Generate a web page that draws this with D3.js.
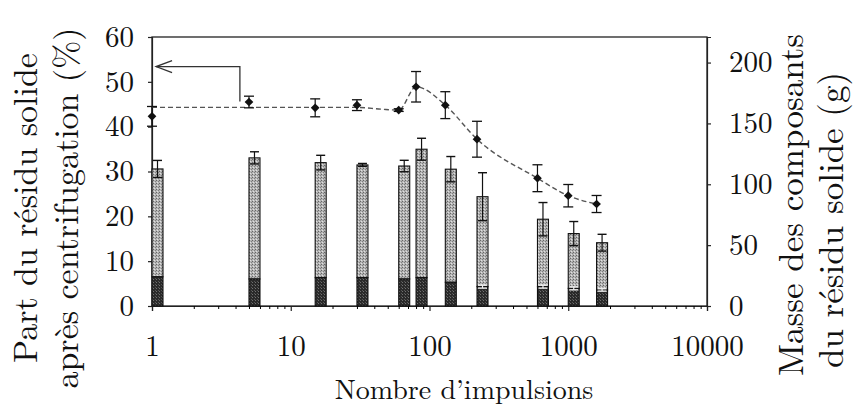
<!DOCTYPE html>
<html><head><meta charset="utf-8">
<script src="https://cdn.jsdelivr.net/npm/d3@7"></script>
<style>body{margin:0;background:#fff;}</style></head>
<body><svg id="c" width="855" height="409"></svg>
<script>
// ---- data ----
const pulses        = [1, 5, 15, 30, 60, 80, 130, 220, 600, 1000, 1600];
const partSolide    = [42.3, 45.5, 44.2, 44.8, 43.7, 48.9, 44.8, 37.2, 28.5, 24.6, 22.75];
const partSolideErr = [2.2, 1.3, 2.0, 1.2, 0.3, 3.4, 3.0, 4.0, 3.0, 2.5, 1.9];
const massTotal     = [112.6, 121.7, 117.8, 115.9, 115.0, 128.8, 112.4, 89.8, 71.3, 59.5, 52.0];
const massTotalErr  = [7.0, 5.0, 6.0, 1.2, 4.7, 9.0, 10.4, 19.7, 13.7, 9.9, 6.9];
const massDark      = [24.0, 22.2, 23.3, 23.3, 22.2, 23.3, 19.5, 15.9, 15.9, 14.5, 13.2];
const massDarkErr   = [0, 0, 0, 0, 0, 0, 0, 1.2, 1.2, 1.2, 1.0];
const fitPulses     = [1, 30, 45, 60, 80, 130, 220, 600, 1000, 1600];
const fitPart       = [44.3, 44.3, 43.9, 43.7, 48.9, 44.8, 37.2, 28.5, 24.6, 22.75];
const xTicks        = [1, 10, 100, 1000, 10000];
const yLeftTicks    = [0, 10, 20, 30, 40, 50, 60];
const yRightTicks   = [0, 50, 100, 150, 200];
const arrowPts      = [[4.3, 45.6], [4.3, 53.4], [1.07, 53.4]]; // [pulses, %]

// ---- layout ----
const FONT = '"Latin Modern Roman"';
const L = 152, R = 707, T = 37, B = 306;
const svg = d3.select("#c");
const x = d3.scaleLog().domain([1, 10000]).range([L, R]);
const yL = d3.scaleLinear().domain([0, 60]).range([B, T]);
const yR = d3.scaleLinear().domain([0, 221]).range([B, T]);

// patterns
const defs = svg.append("defs");
const pl = defs.append("pattern").attr("id","light").attr("width",3).attr("height",3).attr("patternUnits","userSpaceOnUse");
pl.append("rect").attr("width",3).attr("height",3).attr("fill","#b4b4b4");
pl.append("rect").attr("x",0).attr("y",0).attr("width",1).attr("height",1).attr("fill","#666");
pl.append("rect").attr("x",2).attr("y",1).attr("width",1).attr("height",1).attr("fill","#808080");
pl.append("rect").attr("x",1).attr("y",2).attr("width",1).attr("height",1).attr("fill","#e0e0e0");
const pd = defs.append("pattern").attr("id","dark").attr("width",3).attr("height",3).attr("patternUnits","userSpaceOnUse");
pd.append("rect").attr("width",3).attr("height",3).attr("fill","#2a2a2a");
pd.append("rect").attr("x",0).attr("y",0).attr("width",1).attr("height",1).attr("fill","#707070");
pd.append("rect").attr("x",2).attr("y",2).attr("width",1).attr("height",1).attr("fill","#555");

// frame
svg.append("rect").attr("x",L).attr("y",T).attr("width",R-L).attr("height",B-T)
  .attr("fill","none").attr("stroke","#222").attr("stroke-width",1.3);

// axes
const gx = svg.append("g").attr("transform",`translate(0,${B})`)
  .call(d3.axisBottom(x).tickValues(xTicks).tickFormat(d3.format("d")).tickSize(5).tickPadding(24));
const minor = [];
for (let e = 0; e < 4; e++) for (let k = 2; k <= 9; k++) minor.push(k * Math.pow(10, e));
svg.append("g").attr("transform",`translate(0,${B})`)
  .call(d3.axisBottom(x).tickValues(minor).tickFormat("").tickSize(3))
  .call(g => g.select(".domain").remove());
const gl = svg.append("g").attr("transform",`translate(${L},0)`)
  .call(d3.axisLeft(yL).tickValues(yLeftTicks).tickSize(4).tickPadding(14));
const gr = svg.append("g").attr("transform",`translate(${R},0)`)
  .call(d3.axisRight(yR).tickValues(yRightTicks).tickSize(4).tickPadding(18));
[gx, gl, gr].forEach(g => {
  g.attr("font-family", null).attr("font-size", null);
  g.selectAll("text").style("font-size","29px").style("font-family",FONT).attr("fill","#111");
  g.selectAll("line,path").attr("stroke","#222").attr("stroke-width",1.2);
});
svg.selectAll(".domain").attr("stroke","#222");

// bars
const bw = 11;
const bars = svg.append("g");
pulses.forEach((p, i) => {
  const x0 = x(p);
  bars.append("rect").attr("x",x0).attr("y",yR(massTotal[i])).attr("width",bw)
    .attr("height",yR(massDark[i]) - yR(massTotal[i])).attr("fill","url(#light)")
    .attr("stroke","#111").attr("stroke-width",1.1);
  bars.append("rect").attr("x",x0).attr("y",yR(massDark[i])).attr("width",bw)
    .attr("height",B - yR(massDark[i])).attr("fill","url(#dark)")
    .attr("stroke","#111").attr("stroke-width",1.1);
  const cx = x0 + bw / 2;
  const eb = (v, e, col) => {
    if (e <= 0) return;
    const y1 = yR(v + e), y2 = yR(v - e);
    bars.append("line").attr("x1",cx).attr("x2",cx).attr("y1",y1).attr("y2",y2).attr("stroke",col).attr("stroke-width",1.2);
    [y1, y2].forEach(yy => bars.append("line").attr("x1",cx-4.5).attr("x2",cx+4.5).attr("y1",yy).attr("y2",yy).attr("stroke",col).attr("stroke-width",1.4));
  };
  eb(massTotal[i], massTotalErr[i], "#111");
  eb(massDark[i], massDarkErr[i], "#eee");
});

// fitted dashed curve
const line = d3.line().x(d => x(d[0])).y(d => yL(d[1])).curve(d3.curveMonotoneX);
svg.append("path").datum(fitPulses.map((p, i) => [p, fitPart[i]]))
  .attr("d", line).attr("fill","none").attr("stroke","#555").attr("stroke-width",1.4)
  .attr("stroke-dasharray","5,3");

// line error bars and markers
const pts = svg.append("g");
pulses.forEach((p, i) => {
  const cx = x(p), y1 = yL(partSolide[i] + partSolideErr[i]), y2 = yL(partSolide[i] - partSolideErr[i]);
  pts.append("line").attr("x1",cx).attr("x2",cx).attr("y1",y1).attr("y2",y2).attr("stroke","#111").attr("stroke-width",1.2);
  [y1, y2].forEach(yy => pts.append("line").attr("x1",cx-5).attr("x2",cx+5).attr("y1",yy).attr("y2",yy).attr("stroke","#111").attr("stroke-width",1.3));
  pts.append("path").attr("d", d3.symbol().type(d3.symbolSquare).size(38)())
    .attr("transform",`translate(${cx},${yL(partSolide[i])}) rotate(45)`).attr("fill","#111");
});

// arrow
const ap = arrowPts.map(d => [x(d[0]), yL(d[1])]);
svg.append("path").attr("d", d3.line()(ap)).attr("fill","none").attr("stroke","#333").attr("stroke-width",1.3);
const tip = ap[2];
svg.append("path").attr("d", d3.line()([[tip[0]+16, tip[1]-6], tip, [tip[0]+16, tip[1]+6]]))
  .attr("fill","none").attr("stroke","#333").attr("stroke-width",1.3);

// titles
svg.append("text").attr("x",464).attr("y",399).attr("text-anchor","middle")
  .style("font-family",FONT).style("font-size","28px").attr("fill","#111").text("Nombre d’impulsions");
const lt = svg.append("text").attr("transform","translate(37,208) rotate(-90)").attr("text-anchor","middle")
  .style("font-family",FONT).style("font-size","34px").attr("fill","#111");
lt.append("tspan").attr("x",0).attr("y",0).text("Part du résidu solide");
lt.append("tspan").attr("x",0).attr("y",41).text("après centrifugation (%)");
const rt = svg.append("text").attr("transform","translate(803,205) rotate(-90)").attr("text-anchor","middle")
  .style("font-family",FONT).style("font-size","35px").attr("fill","#111");
rt.append("tspan").attr("x",0).attr("y",0).text("Masse des composants");
rt.append("tspan").attr("x",-15).attr("y",40).text("du résidu solide (g)");
</script></body></html>
